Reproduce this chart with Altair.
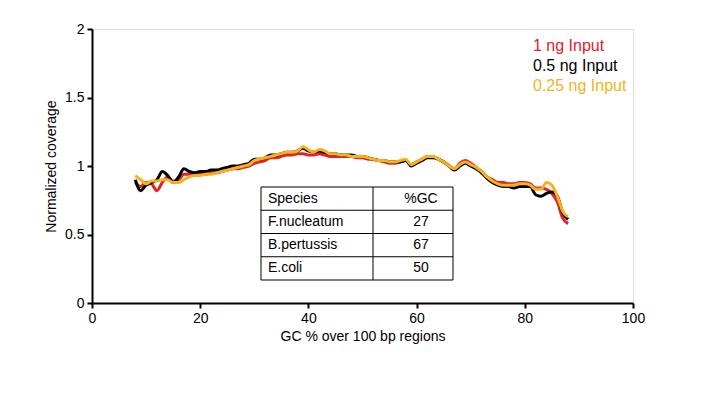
import altair as alt
import pandas as pd

# ---------------- data ----------------
gc = list(range(8, 89))

cov_1ng = [0.88, 0.85, 0.88, 0.87, 0.82, 0.88, 0.92, 0.89, 0.90, 0.94,
           0.94, 0.93, 0.94, 0.94, 0.95, 0.95, 0.96, 0.97, 0.98, 0.98,
           0.99, 1.00, 1.02, 1.03, 1.04, 1.06, 1.06, 1.07, 1.08, 1.08,
           1.09, 1.09, 1.08, 1.08, 1.09, 1.08, 1.07, 1.07, 1.07, 1.07,
           1.07, 1.06, 1.06, 1.05, 1.05, 1.04, 1.03, 1.02, 1.02, 1.03,
           1.04, 1.01, 1.03, 1.05, 1.07, 1.07, 1.05, 1.03, 1.00, 0.98,
           1.02, 1.04, 1.02, 0.99, 0.96, 0.92, 0.90, 0.88, 0.88, 0.87,
           0.87, 0.88, 0.88, 0.87, 0.84, 0.84, 0.83, 0.80, 0.74, 0.62,
           0.58]

cov_05ng = [0.90, 0.82, 0.86, 0.88, 0.90, 0.96, 0.93, 0.88, 0.92, 0.98,
            0.96, 0.95, 0.96, 0.96, 0.97, 0.97, 0.98, 0.99, 1.00, 1.00,
            1.01, 1.02, 1.05, 1.05, 1.06, 1.08, 1.08, 1.09, 1.10, 1.10,
            1.11, 1.13, 1.11, 1.10, 1.11, 1.10, 1.09, 1.09, 1.08, 1.08,
            1.08, 1.07, 1.07, 1.06, 1.05, 1.04, 1.04, 1.03, 1.03, 1.03,
            1.04, 1.00, 1.02, 1.04, 1.06, 1.06, 1.05, 1.03, 1.00, 0.97,
            1.00, 1.02, 1.00, 0.98, 0.95, 0.91, 0.88, 0.86, 0.85, 0.85,
            0.84, 0.85, 0.85, 0.85, 0.79, 0.78, 0.80, 0.81, 0.78, 0.66,
            0.61]

cov_025ng = [0.93, 0.90, 0.87, 0.89, 0.89, 0.90, 0.90, 0.88, 0.88, 0.90,
             0.92, 0.93, 0.93, 0.94, 0.94, 0.95, 0.96, 0.97, 0.98, 0.99,
             1.00, 1.01, 1.04, 1.05, 1.06, 1.07, 1.08, 1.09, 1.10, 1.10,
             1.11, 1.14, 1.12, 1.10, 1.12, 1.11, 1.09, 1.09, 1.08, 1.08,
             1.07, 1.07, 1.07, 1.06, 1.05, 1.04, 1.04, 1.03, 1.03, 1.04,
             1.05, 1.01, 1.03, 1.05, 1.07, 1.07, 1.05, 1.03, 1.00, 0.98,
             1.01, 1.03, 1.01, 0.99, 0.96, 0.92, 0.89, 0.87, 0.86, 0.86,
             0.86, 0.87, 0.87, 0.86, 0.83, 0.83, 0.88, 0.86, 0.78, 0.67,
             0.63]

series_names = ["1 ng Input", "0.5 ng Input", "0.25 ng Input"]
series_colors = ["#e3202b", "#000000", "#f5b21a"]

table_species = ["Species", "F.nucleatum", "B.pertussis", "E.coli"]
table_gc = ["%GC", "27", "67", "50"]

x_ticks = [0, 20, 40, 60, 80, 100]
y_ticks = [0, 0.5, 1, 1.5, 2]

# ---------------- build ----------------
FONT = "Liberation Sans"
W, H = 541, 274

rows = []
for name, vals in zip(series_names, [cov_1ng, cov_05ng, cov_025ng]):
    for g, v in zip(gc, vals):
        rows.append({"gc": g, "cov": v, "series": name})
df = pd.DataFrame(rows)

x_enc = alt.X("gc:Q", scale=alt.Scale(domain=[0, 100], nice=False),
              axis=alt.Axis(values=x_ticks, title="GC % over 100 bp regions",
                            grid=False, domainColor="black", domainWidth=2,
                            tickColor="black", tickWidth=2, tickSize=5,
                            labelFlush=False, labelOverlap=False,
                            labelFont=FONT, labelFontSize=14, labelColor="black",
                            labelPadding=3, titleFont=FONT, titleFontSize=14,
                            titleFontWeight="normal", titleColor="black",
                            titlePadding=4))
y_enc = alt.Y("cov:Q", scale=alt.Scale(domain=[0, 2], nice=False),
              axis=alt.Axis(values=y_ticks, title="Normalized coverage", format="~g",
                            grid=False, domainColor="black", domainWidth=2,
                            tickColor="black", tickWidth=2, tickSize=5,
                            labelFlush=False, labelOverlap=False,
                            labelFont=FONT, labelFontSize=14, labelColor="black",
                            labelPadding=3, titleFont=FONT, titleFontSize=14,
                            titleFontWeight="normal", titleColor="black",
                            titlePadding=6))

layers = []
for name, col in zip(series_names, series_colors):
    layers.append(
        alt.Chart(df).transform_filter(alt.datum.series == name)
        .mark_line(color=col, strokeWidth=3, interpolate="monotone")
        .encode(x=x_enc, y=y_enc)
    )

# legend (coloured text)
for i, (name, col) in enumerate(zip(series_names, series_colors)):
    layers.append(
        alt.Chart(pd.DataFrame({"t": [name]}))
        .mark_text(align="left", baseline="middle", font=FONT, fontSize=16, color=col)
        .encode(x=alt.value(441), y=alt.value(17 + 20 * i), text="t:N")
    )

# table
tbl = pd.DataFrame({"row": list(range(len(table_species))),
                    "species": table_species, "gcval": table_gc})
T_X0, T_X1, T_XD = 169, 361, 281
T_Y0, ROW_H = 158, 23.25
n_rows = len(table_species)

layers.append(
    alt.Chart(tbl).mark_rect(fill="white", stroke="black", strokeWidth=1)
    .encode(x=alt.value(T_X0), x2=alt.value(T_X1),
            y=alt.value(T_Y0), y2=alt.value(T_Y0 + ROW_H * n_rows))
    .transform_filter(alt.datum.row == 0)
)
layers.append(
    alt.Chart(tbl).transform_filter(alt.datum.row > 0)
    .transform_calculate(py=f"{T_Y0} + {ROW_H} * datum.row")
    .mark_rule(color="black", strokeWidth=1)
    .encode(x=alt.value(T_X0), x2=alt.value(T_X1), y=alt.Y("py:Q", scale=None))
)
layers.append(
    alt.Chart(tbl).transform_filter(alt.datum.row == 0)
    .mark_rule(color="black", strokeWidth=1)
    .encode(x=alt.value(T_XD), y=alt.value(T_Y0), y2=alt.value(T_Y0 + ROW_H * n_rows))
)
layers.append(
    alt.Chart(tbl).transform_calculate(py=f"{T_Y0} + {ROW_H} * (datum.row + 0.5)")
    .mark_text(align="left", baseline="middle", font=FONT, fontSize=14, color="black")
    .encode(x=alt.value(T_X0 + 7), y=alt.Y("py:Q", scale=None), text="species:N")
)
layers.append(
    alt.Chart(tbl).transform_calculate(py=f"{T_Y0} + {ROW_H} * (datum.row + 0.5)")
    .mark_text(align="center", baseline="middle", font=FONT, fontSize=14, color="black")
    .encode(x=alt.value(329), y=alt.Y("py:Q", scale=None), text="gcval:N")
)

chart = (
    alt.layer(*layers)
    .properties(width=W, height=H, autosize=alt.AutoSizeParams(type="none"),
                padding={"left": 84, "top": 21, "right": 20, "bottom": 60})
    .configure_view(stroke=None)
    .configure(background="white")
)

chart.save("out.html", embed_options={"renderer": "svg", "actions": False})
